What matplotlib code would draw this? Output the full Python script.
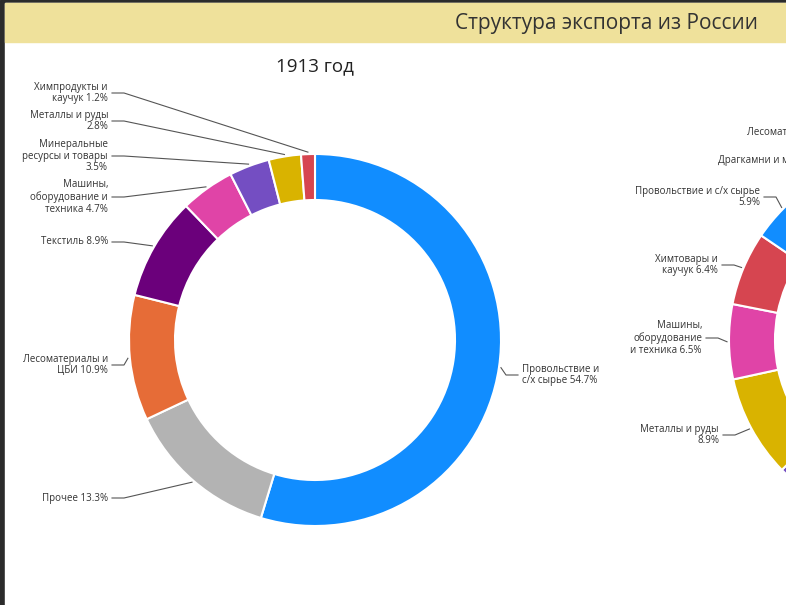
import numpy as np
import matplotlib.pyplot as plt
from matplotlib.patches import Rectangle

plt.rcParams['font.family'] = ['Open Sans', 'DejaVu Sans']

# 1913
labels_1913 = ['Провольствие и\nс/х сырье 54.7%', 'Прочее 13.3%', 'Лесоматериалы и\nЦБИ 10.9%',
               'Текстиль 8.9%', 'Машины,\nоборудование и\nтехника 4.7%',
               'Минеральные\nресурсы и товары\n3.5%', 'Металлы и руды\n2.8%', 'Химпродукты и\nкаучук 1.2%']
values_1913 = [54.7, 13.3, 10.9, 8.9, 4.7, 3.5, 2.8, 1.2]
colors_1913 = ['#118DFF', '#B3B3B3', '#E66C37', '#6B007B', '#E044A7', '#744EC2', '#D9B300', '#D64550']

# second chart (only partly visible), clockwise from top
labels_2 = ['Топливо', 'Прочее', 'Металлы и руды\n8.9%', 'Машины,\nоборудование\nи техника 6.5%',
            'Химтовары и\nкаучук 6.4%', 'Провольствие и с/х сырье\n5.9%',
            'Драгкамни и металлы 5.2%', 'Лесоматериалы и ЦБИ 4.4%']
values_2 = [58.6, 4.1, 8.9, 6.5, 6.4, 5.9, 5.2, 4.4]
colors_2 = ['#12239E', '#744EC2', '#D9B300', '#E044A7', '#D64550', '#118DFF', '#6B007B', '#E66C37']

W, H = 786, 605
fig = plt.figure(figsize=(W / 100, H / 100), dpi=100)
ax = fig.add_axes([0, 0, 1, 1])

def Y(y):
    return H - y

# frame / header
ax.add_patch(Rectangle((0, 0), W, H, color='#2b2b2b', zorder=0))
ax.add_patch(Rectangle((5, 0), W, H - 3, color='white', zorder=0))
ax.add_patch(Rectangle((5, Y(42)), W, 39, color='#EFE19B', zorder=0))
ax.text(758, Y(23), 'Структура экспорта из России', ha='right', va='center', fontsize=15, color='#333333')
ax.text(315, Y(66), '1913 год', ha='center', va='center', fontsize=13.5, color='#222222')

def donut(values, colors, labels, cx, cy, label_pos, align):
    r, w = 186, 46
    ax.pie(values, colors=colors, startangle=90, counterclock=False, center=(cx, Y(cy)), radius=r,
           wedgeprops=dict(width=w, edgecolor='white', linewidth=1.5))
    ang = 90.0
    for v, lab, pos, ha in zip(values, labels, label_pos, align):
        mid = np.deg2rad(ang - v * 1.8)
        ang -= v * 3.6
        if pos is None:
            continue
        tx, ty = pos
        px, py = cx + (r + 2) * np.cos(mid), Y(cy) + (r + 2) * np.sin(mid)
        ax.text(tx, Y(ty), lab, ha=ha, va='center', fontsize=7, color='#333333', linespacing=1.1,
                multialignment=ha)
        sx = tx + 4 if ha == 'right' else tx - 4
        kx = sx + 12 if ha == 'right' else sx - 12
        ax.plot([sx, kx, px], [Y(ty), Y(ty), py], color='#555555', lw=0.8)

pos_1913 = [(522, 375), (108, 498), (108, 365), (108, 242), (108, 197), (108, 156), (108, 121), (108, 93)]
align_1913 = ['left'] + ['right'] * 7
donut(values_1913, colors_1913, labels_1913, 315, 340, pos_1913, align_1913)

pos_2 = [None, None, (719, 435), (702, 338), (718, 265), (760, 197), (848, 160), (880, 132)]
align_2 = ['right'] * 8
donut(values_2, colors_2, labels_2, 915, 340, pos_2, align_2)

ax.set_xlim(0, W)
ax.set_ylim(0, H)
ax.set_aspect('auto')
ax.axis('off')
fig.savefig('out.png', dpi=100)
